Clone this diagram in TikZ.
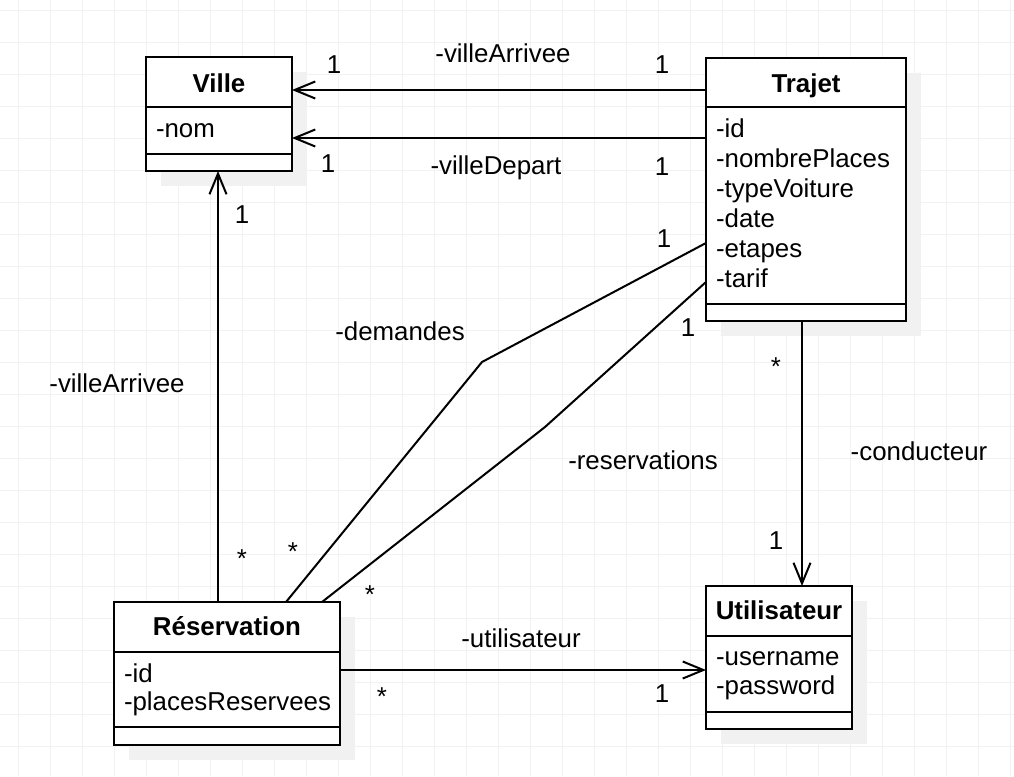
\documentclass[tikz,border=0pt]{standalone}
\usepackage{fontspec}
\setmainfont{Liberation Sans}
\usetikzlibrary{arrows.meta,fit,calc}
\definecolor{gridc}{RGB}{242,242,242}
\definecolor{shadowc}{RGB}{241,241,241}
\tikzset{
  every node/.style={font=\fontsize{19.4}{22}\selectfont, inner sep=0pt, outer sep=0pt},
  classbox/.style={draw, line width=1.5pt, fill=white, inner sep=0pt},
  sep/.style={line width=1.5pt},
  assoc/.style={line width=1.5pt, -{Straight Barb[length=15.5pt,width=12.8pt,line width=1.5pt]}},
  plain/.style={line width=1.5pt},
  hdr/.style={font=\fontsize{19.4}{22}\selectfont\bfseries, anchor=base},
  attr/.style={anchor=base west},
  lbl/.style={anchor=base}
}
\begin{document}
\begin{tikzpicture}[x=0.75pt,y=-0.75pt]
\useasboundingbox (0,0) rectangle (1014,776);
% grid
\foreach \gx in {18,50,...,1010} \draw[gridc, line width=0.75pt] (\gx,0) -- (\gx,776);
\foreach \gy in {10,42,...,774} \draw[gridc, line width=0.75pt] (0,\gy) -- (1014,\gy);
% shadows
\fill[shadowc] (161,72) rectangle (307,186);
\fill[shadowc] (721,73) rectangle (921,336);
\fill[shadowc] (129,617) rectangle (355,760);
\fill[shadowc] (721,601) rectangle (867,744);
% boxes
\node[classbox, fit={(146,57) (292,171)}] (ville) {};
\node[classbox, fit={(706,58) (906,321)}] (trajet) {};
\node[classbox, fit={(114,602) (340,745)}] (reserv) {};
\node[classbox, fit={(706,586) (852,729)}] (util) {};
% compartments
\draw[sep] (ville.west |- 0,107) -- (ville.east |- 0,107);
\draw[sep] (ville.west |- 0,154) -- (ville.east |- 0,154);
\draw[sep] (trajet.west |- 0,107) -- (trajet.east |- 0,107);
\draw[sep] (trajet.west |- 0,304) -- (trajet.east |- 0,304);
\draw[sep] (reserv.west |- 0,652) -- (reserv.east |- 0,652);
\draw[sep] (reserv.west |- 0,727) -- (reserv.east |- 0,727);
\draw[sep] (util.west |- 0,636) -- (util.east |- 0,636);
\draw[sep] (util.west |- 0,712) -- (util.east |- 0,712);
% headers
\node[hdr] (hville) at (219,92) {Ville};
\node[hdr] (htrajet) at (806,92) {Trajet};
\node[hdr] (hreserv) at (227,635) {Réservation};
\node[hdr] (hutil) at (779,619) {Utilisateur};
% attributes
\node[attr] (avnom) at (156,137) {-nom};
\node[attr] (atid) at (716,137) {-id};
\node[attr] (atnp) at (716,167) {-nombrePlaces};
\node[attr] (attv) at (716,197) {-typeVoiture};
\node[attr] (atdate) at (716,227) {-date};
\node[attr] (atet) at (716,257) {-etapes};
\node[attr] (attar) at (716,287) {-tarif};
\node[attr] (arid) at (124,682) {-id};
\node[attr] (arpr) at (124,710) {-placesReservees};
\node[attr] (auun) at (716,665) {-username};
\node[attr] (aupw) at (716,694) {-password};
% connector helper coordinates
\coordinate (rvx) at (218,0);
\coordinate (tux) at (802,0);
\coordinate (ruy) at (0,670);
\coordinate (vay) at (0,90);
\coordinate (vdy) at (0,138);
\coordinate (dmx) at (286,0);
\coordinate (dmb) at (482,362);
\coordinate (dmy) at (0,243);
\coordinate (rsx) at (322,0);
\coordinate (rsb) at (545,427);
\coordinate (rsy) at (0,282);
% connectors
\draw[assoc] (trajet.west |- vay) -- (ville.east |- vay);
\draw[assoc] (trajet.west |- vdy) -- (ville.east |- vdy);
\draw[assoc] (reserv.north -| rvx) -- (ville.south -| rvx);
\draw[assoc] (trajet.south -| tux) -- (util.north -| tux);
\draw[assoc] (reserv.east |- ruy) -- (util.west |- ruy);
\draw[plain] (reserv.north -| dmx) -- (dmb) -- (trajet.west |- dmy);
\draw[plain] (reserv.north -| rsx) -- (rsb) -- (trajet.west |- rsy);
% labels
\node[lbl] (l1) at (334,73) {1};
\node[lbl] (l2) at (503,62) {-villeArrivee};
\node[lbl] (l3) at (662,73) {1};
\node[lbl] (l4) at (328,172) {1};
\node[lbl] (l5) at (496,174) {-villeDepart};
\node[lbl] (l6) at (662,175) {1};
\node[lbl] (l7) at (242,223) {1};
\node[lbl] (l8) at (117,392) {-villeArrivee};
\node[lbl] (l9) at (242,567) {*};
\node[lbl] (l10) at (664,247) {1};
\node[lbl] (l11) at (400,340) {-demandes};
\node[lbl] (l12) at (293,560) {*};
\node[lbl] (l13) at (688,336) {1};
\node[lbl] (l14) at (643,469) {-reservations};
\node[lbl] (l15) at (370,603) {*};
\node[lbl] (l16) at (776,375) {*};
\node[lbl] (l17) at (919,460) {-conducteur};
\node[lbl] (l18) at (776,549) {1};
\node[lbl] (l19) at (521,647) {-utilisateur};
\node[lbl] (l20) at (382,705) {*};
\node[lbl] (l21) at (662,702) {1};
\end{tikzpicture}
\end{document}
